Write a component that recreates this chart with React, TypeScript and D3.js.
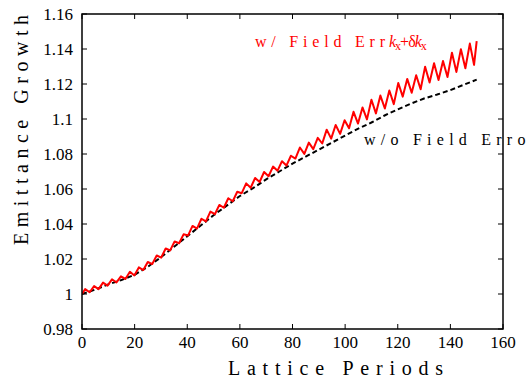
import React from "react";
import * as d3 from "d3";

const xTicks = [0, 20, 40, 60, 80, 100, 120, 140, 160];
const yTicks = [0.98, 1, 1.02, 1.04, 1.06, 1.08, 1.1, 1.12, 1.14, 1.16];

// w/o field error (black dashed)
const basePeriods = [0, 5, 10, 15, 20, 25, 30, 35, 40, 45, 50, 55, 60, 65, 70, 75, 80, 85, 90, 95, 100, 105, 110, 115, 120, 125, 130, 135, 140, 145, 150];
const baseValues = [1.0, 1.0025, 1.0055, 1.008, 1.011, 1.0155, 1.021, 1.027, 1.033, 1.039, 1.045, 1.0505, 1.056, 1.0605, 1.0655, 1.07, 1.0745, 1.0785, 1.0825, 1.0865, 1.0905, 1.0945, 1.098, 1.102, 1.1055, 1.1088, 1.1117, 1.114, 1.1165, 1.1195, 1.1225];

// w/ field error (red) – peaks and troughs
const errPeriods = [0, 1.2, 2.9, 4.6, 6.3, 8.0, 9.7, 11.4, 13.1, 14.8, 16.5, 18.2, 19.9, 21.6, 23.3, 25.0, 26.7, 28.4, 30.1, 31.8, 33.5, 35.2, 36.9, 38.6, 40.3, 42.0, 43.7, 45.4, 47.1, 48.8, 50.5, 52.2, 53.9, 55.6, 57.3, 59.0, 60.7, 62.4, 64.1, 65.8, 67.5, 69.2, 70.9, 72.6, 74.3, 76.0, 77.7, 79.4, 81.1, 82.8, 84.5, 86.2, 87.9, 89.6, 91.3, 93.0, 94.7, 96.4, 98.1, 99.8, 101.5, 103.2, 104.9, 106.6, 108.3, 110.0, 111.7, 113.4, 115.1, 116.8, 118.5, 120.2, 121.9, 123.6, 125.3, 127.0, 128.7, 130.4, 132.1, 133.8, 135.5, 137.2, 138.9, 140.6, 142.3, 144.0, 145.7, 147.4, 149.0, 150.0];
const errValues = [1.0, 1.0028, 1.001, 1.0045, 1.0028, 1.0065, 1.0048, 1.0084, 1.0066, 1.0101, 1.0086, 1.0127, 1.0106, 1.0152, 1.0137, 1.0183, 1.0171, 1.022, 1.0208, 1.026, 1.0249, 1.03, 1.029, 1.0341, 1.0334, 1.0389, 1.0374, 1.043, 1.0415, 1.0471, 1.0456, 1.0509, 1.0493, 1.0547, 1.053, 1.0584, 1.0576, 1.0632, 1.0607, 1.0663, 1.064, 1.0697, 1.0673, 1.0728, 1.0704, 1.0759, 1.0734, 1.079, 1.0774, 1.0837, 1.0801, 1.0865, 1.0828, 1.0892, 1.086, 1.0939, 1.0888, 1.0966, 1.0915, 1.0993, 1.0947, 1.1041, 1.0974, 1.1066, 1.0998, 1.111, 1.1032, 1.1134, 1.106, 1.1163, 1.1085, 1.1206, 1.1128, 1.1229, 1.115, 1.125, 1.117, 1.1299, 1.1209, 1.1319, 1.1223, 1.1331, 1.124, 1.1379, 1.1269, 1.1399, 1.129, 1.1431, 1.1309, 1.1445];

const W = 526;
const H = 378;
const left = 82;
const right = 503;
const top = 14;
const bottom = 329;
const CSS = `svg text, svg tspan { font-family: "Liberation Serif", "Times New Roman", serif !important; }`;

export default function App() {
  const x = d3.scaleLinear().domain([0, 160]).range([left, right]);
  const y = d3.scaleLinear().domain([0.98, 1.16]).range([bottom, top]);
  const line = d3
    .line<[number, number]>()
    .x((d) => x(d[0]))
    .y((d) => y(d[1]));
  const basePts = basePeriods.map((p, i) => [p, baseValues[i]] as [number, number]);
  const errPts = errPeriods.map((p, i) => [p, errValues[i]] as [number, number]);
  const fmt = (v: number) => String(+v.toFixed(2));
  const tl = 5;

  return (
    <div style={{ position: "fixed", left: 0, top: 0, width: W, height: H }}>
      <svg width={W} height={H} style={{ display: "block" }} fontFamily="Liberation Serif">
        <style>{CSS}</style>
        <rect x={0} y={0} width={W} height={H} fill="#fff" />
        <defs>
          <clipPath id="plotclip">
            <rect x={left} y={top} width={right - left} height={bottom - top} />
          </clipPath>
        </defs>
        {xTicks.map((t) => (
          <g key={"xt" + t}>
            <line x1={x(t)} x2={x(t)} y1={bottom} y2={bottom - tl} stroke="#000" strokeWidth={1} />
            <line x1={x(t)} x2={x(t)} y1={top} y2={top + tl} stroke="#000" strokeWidth={1} />
            <text x={x(t)} y={348} textAnchor="middle" fontSize={17} fill="#000">
              {String(t)}
            </text>
          </g>
        ))}
        {yTicks.map((t) => (
          <g key={"yt" + t}>
            <line x1={left} x2={left + tl} y1={y(t)} y2={y(t)} stroke="#000" strokeWidth={1} />
            <line x1={right} x2={right - tl} y1={y(t)} y2={y(t)} stroke="#000" strokeWidth={1} />
            <text x={73} y={y(t) + 5.5} textAnchor="end" fontSize={17} fill="#000">
              {fmt(t)}
            </text>
          </g>
        ))}
        <g clipPath="url(#plotclip)">
          <path d={line(basePts) || ""} fill="none" stroke="#000" strokeWidth={2} strokeDasharray="5,3" />
          <path d={line(errPts) || ""} fill="none" stroke="#ff0000" strokeWidth={2} strokeLinejoin="round" />
        </g>
        <rect x={left} y={top} width={right - left} height={bottom - top} fill="none" stroke="#000" strokeWidth={1.5} />

        <text x={228} y={375} fontSize={20} textLength={215} lengthAdjust="spacing" fill="#000">
          Lattice Periods
        </text>
        <text transform="translate(28,245) rotate(-90)" x={0} y={0} fontSize={20} textLength={230} lengthAdjust="spacing" fill="#000">
          Emittance Growth
        </text>

        <text x={255} y={47} fontSize={16} textLength={130} lengthAdjust="spacing" fill="#ff0000">
          w/ Field Err
        </text>
        <text x={389} y={47} fontSize={16} letterSpacing={-1} fill="#ff0000">
          <tspan fontStyle="italic">k</tspan>
          <tspan fontSize={12} dy={3}>x</tspan>
          <tspan dy={-3}>+δ</tspan>
          <tspan fontStyle="italic">k</tspan>
          <tspan fontSize={12} dy={3}>x</tspan>
        </text>
        <text x={364} y={145} fontSize={16} textLength={172} lengthAdjust="spacing" fill="#000">
          w/o Field Error
        </text>
      </svg>
    </div>
  );
}
